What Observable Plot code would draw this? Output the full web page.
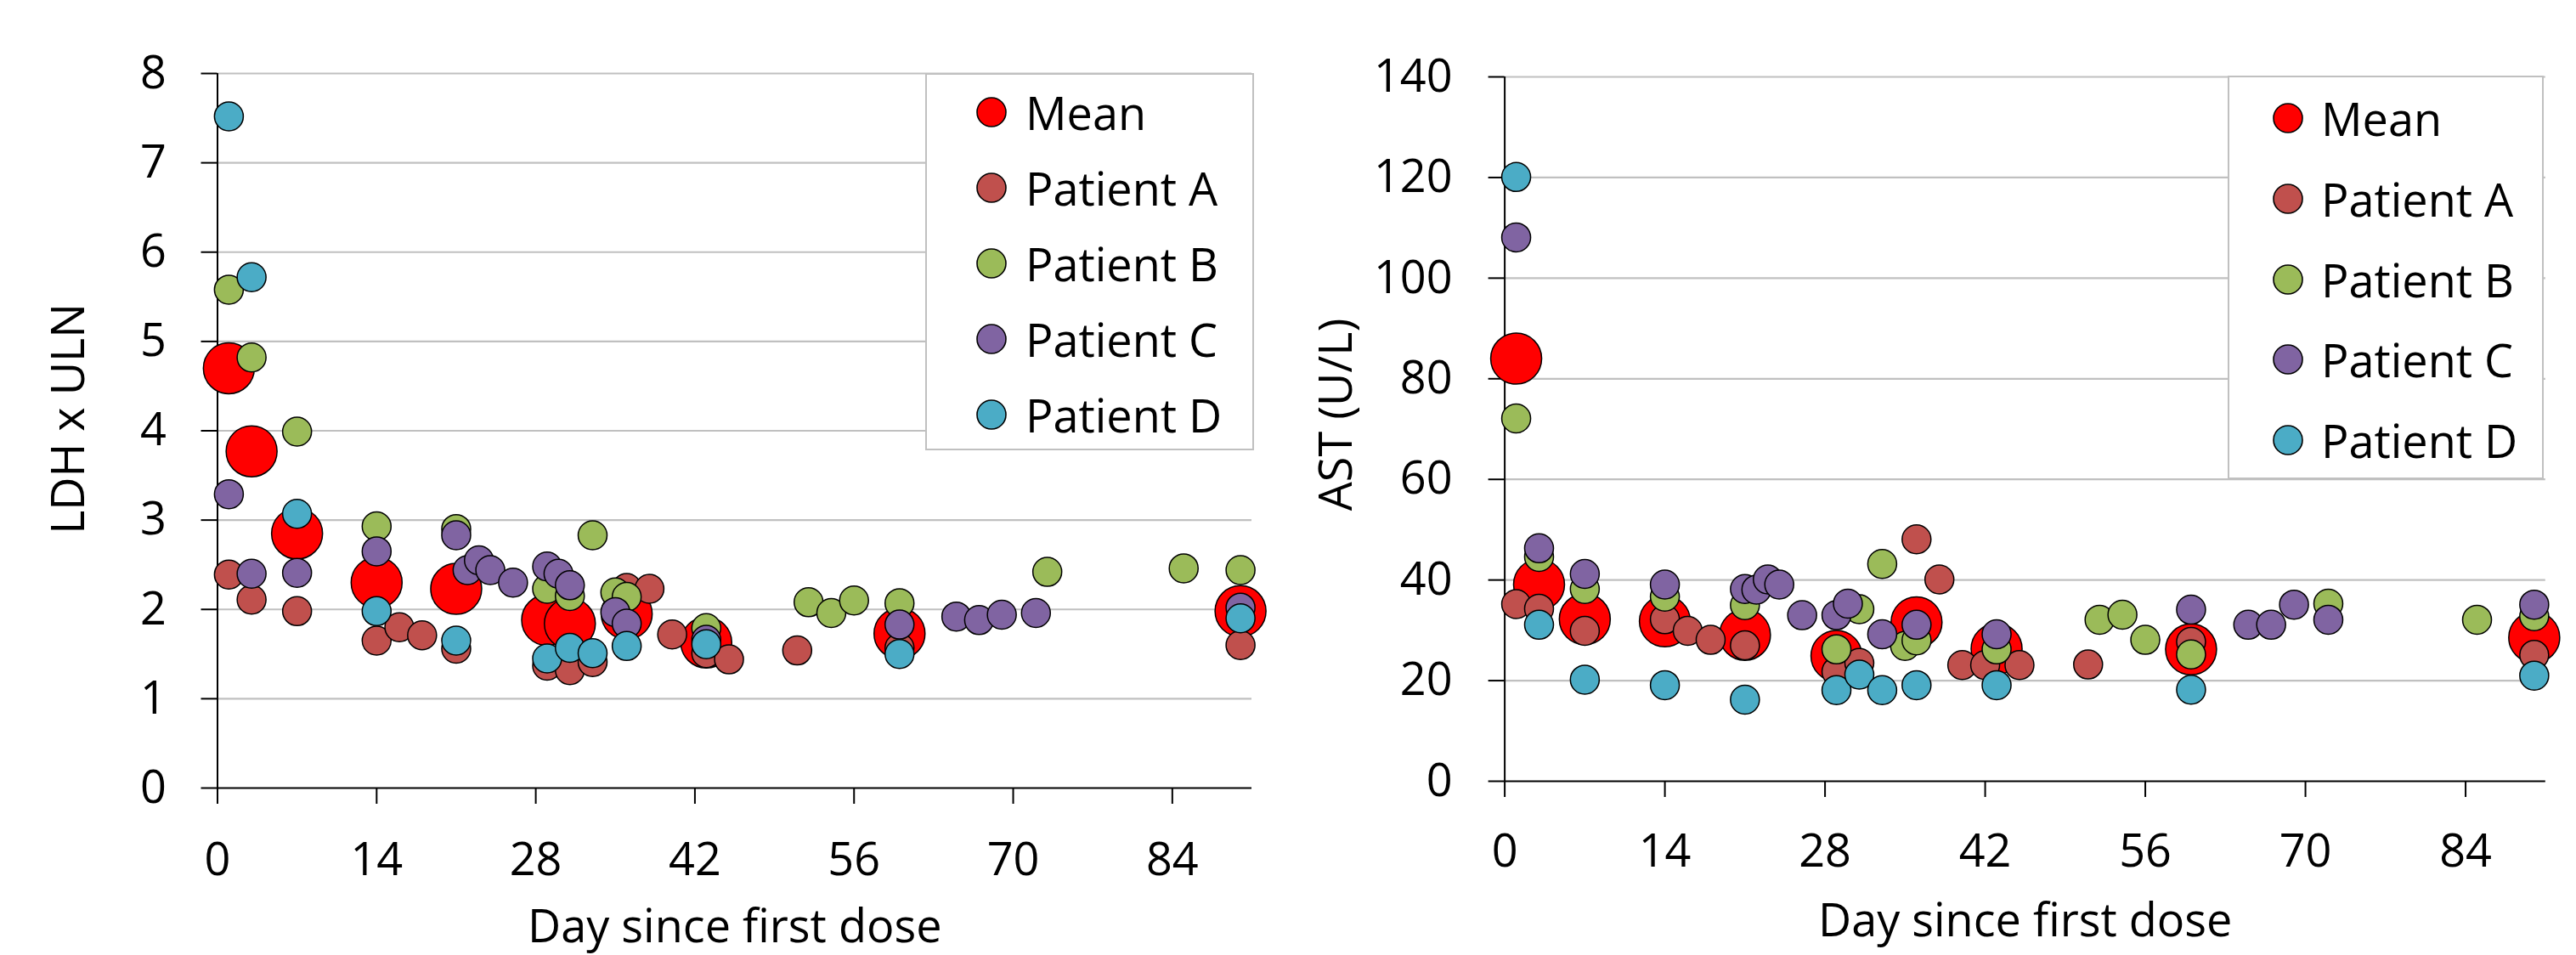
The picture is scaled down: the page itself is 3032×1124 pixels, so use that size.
<!DOCTYPE html>
<html><head><meta charset="utf-8">
<script src="https://cdn.jsdelivr.net/npm/d3@7"></script>
<script src="https://cdn.jsdelivr.net/npm/@observablehq/plot@0.6"></script>
<style>
body{margin:0;background:#fff;width:3032px;height:1124px;overflow:hidden;position:relative;font-family:"Open Sans",sans-serif;}
.chart{position:absolute;top:0;}
.legend{position:absolute;background:#fff;border:2px solid #c0c0c0;box-sizing:border-box;}
.legend .row{position:absolute;display:flex;align-items:center;font-size:54px;line-height:1;color:#000;white-space:nowrap;}
.legend .row svg{display:block;}
</style></head><body>
<div id="left" class="chart" style="left:0"></div>
<div id="right" class="chart" style="left:1516px"></div>
<script>
// ---- categories / colours ----
const series = ["Mean", "Patient A", "Patient B", "Patient C", "Patient D"];
const colors = ["#FF0000", "#C0504D", "#9BBB59", "#8064A2", "#4BACC6"];
const xTicks = [0, 14, 28, 42, 56, 70, 84];
const ldhTicks = [0, 1, 2, 3, 4, 5, 6, 7, 8];
const astTicks = [0, 20, 40, 60, 80, 100, 120, 140];
const xLabel = "Day since first dose";
const ldhLabel = "LDH x ULN";
const astLabel = "AST (U/L)";

// ---- LDH x ULN : [day, value] ----
const ldhMean = [[1,4.70],[3,3.77],[7,2.85],[14,2.30],[21,2.23],[29,1.88],[31,1.84],[36,1.95],[43,1.63],[60,1.73],[90,1.98]];
const ldhA = [[1,2.39],[3,2.11],[7,1.98],[14,1.65],[16,1.80],[18,1.71],[21,1.56],[29,1.37],[31,1.32],[33,1.41],[36,2.24],[38,2.23],[40,1.72],[43,1.51],[45,1.44],[51,1.54],[60,1.57],[90,1.60]];
const ldhB = [[1,5.58],[3,4.82],[7,3.99],[14,2.93],[21,2.90],[29,2.23],[31,2.15],[33,2.83],[35,2.19],[36,2.14],[43,1.79],[52,2.08],[54,1.96],[56,2.10],[60,2.07],[73,2.42],[85,2.46],[90,2.44]];
const ldhC = [[1,3.29],[3,2.40],[7,2.41],[14,2.65],[21,2.83],[22,2.44],[23,2.55],[24,2.44],[26,2.30],[29,2.48],[30,2.40],[31,2.27],[35,1.97],[36,1.84],[43,1.66],[60,1.83],[65,1.92],[67,1.88],[69,1.94],[72,1.96],[90,2.02]];
const ldhD = [[1,7.52],[3,5.72],[7,3.07],[14,1.98],[21,1.65],[29,1.45],[31,1.57],[33,1.51],[36,1.59],[43,1.61],[60,1.50],[90,1.90]];

// ---- AST (U/L) : [day, value] ----
const astMean = [[1,84.0],[3,39.1],[7,32.2],[14,31.8],[21,29.1],[29,24.9],[36,31.6],[43,26.3],[60,26.2],[90,28.6]];
const astA = [[1,35.2],[3,34.3],[7,29.9],[14,32.2],[16,29.9],[18,28.1],[21,27.0],[29,21.8],[31,23.5],[36,48.1],[38,40.1],[40,23.1],[42,23.1],[45,23.1],[51,23.2],[60,27.7],[90,25.1]];
const astB = [[1,72.1],[3,44.6],[7,38.2],[14,36.7],[21,35.0],[29,26.2],[31,34.2],[33,43.2],[35,26.9],[36,28.0],[43,26.2],[52,32.1],[54,33.1],[56,28.1],[60,25.2],[72,35.3],[85,32.1],[90,32.8]];
const astC = [[1,108.1],[3,46.3],[7,41.2],[14,39.1],[21,38.2],[22,38.1],[23,40.1],[24,39.1],[26,33.0],[29,33.0],[30,35.3],[33,29.2],[36,31.1],[43,29.2],[60,34.1],[65,31.1],[67,31.1],[69,35.1],[72,32.1],[90,35.1]];
const astD = [[1,120.1],[3,31.1],[7,20.2],[14,19.1],[21,16.2],[29,18.1],[31,21.2],[33,18.1],[36,19.1],[43,19.1],[60,18.2],[90,21.0]];

function rows(list) {
  return list.flatMap((arr, i) => arr.map(([day, value]) => ({series: series[i], day, value})));
}
const ldhData = rows([ldhMean, ldhA, ldhB, ldhC, ldhD]);
const astData = rows([astMean, astA, astB, astC, astD]);

const FONT = '"Open Sans", sans-serif';

function chart(o) {
  const meanData = o.data.filter(d => d.series === "Mean");
  const patData = o.data.filter(d => d.series !== "Mean");
  return Plot.plot({
    width: o.width, height: 1124,
    marginLeft: o.mL, marginRight: o.mR, marginTop: o.mT, marginBottom: o.mB,
    style: {fontFamily: FONT, fontSize: "54px", color: "#000", background: "#fff", overflow: "visible"},
    x: {domain: [0, 91]},
    y: {domain: [0, o.yMax]},
    color: {domain: series, range: colors},
    marks: [
      Plot.gridY({ticks: o.yTicks.filter(d => d > 0), stroke: "#c0c0c0", strokeOpacity: 1, strokeWidth: 2.2}),
      Plot.axisY({ticks: o.yTicks, tickSize: 19, tickPadding: o.yPad, strokeWidth: 2, label: null, fontSize: 54}),
      Plot.axisX({ticks: xTicks, tickSize: 19, tickPadding: o.xPad, strokeWidth: 2, label: null, fontSize: 54}),
      Plot.ruleX([0], {stroke: "#000", strokeWidth: 2}),
      Plot.ruleY([0], {stroke: "#000", strokeWidth: 2}),
      Plot.dot(meanData, {x: "day", y: "value", fill: "series", r: 30, stroke: "#000", strokeWidth: 1.5}),
      Plot.dot(patData, {x: "day", y: "value", fill: "series", r: 17, stroke: "#000", strokeWidth: 1.5}),
      Plot.text([o.yLabel], {text: d => d, frameAnchor: "left", textAnchor: "middle", lineAnchor: "middle", rotate: -90, dx: o.yTitleDx, dy: o.yTitleDy, fontSize: 54, fill: "#000"}),
      Plot.text([xLabel], {text: d => d, frameAnchor: "bottom", textAnchor: "middle", lineAnchor: "top", dy: o.xTitleDy, fontSize: 54, fill: "#000"})
    ]
  });
}

document.getElementById("left").append(chart({
  data: ldhData, yTicks: ldhTicks, yMax: 8, yLabel: ldhLabel,
  width: 1516, mL: 255.5, mR: 43, mT: 86, mB: 197,
  yPad: 41, xPad: 45, yTitleDx: -174.5, yTitleDy: -14, xTitleDy: 143
}));
document.getElementById("right").append(chart({
  data: astData, yTicks: astTicks, yMax: 140, yLabel: astLabel,
  width: 1516, mL: 254.6, mR: 36.2, mT: 90, mB: 205,
  yPad: 42.5, xPad: 43.5, yTitleDx: -197, yTitleDy: -17, xTitleDy: 144
}));

// ---- legends (HTML, real text) ----
function legend(box, mx, my0, step, tx) {
  const div = document.createElement("div");
  div.className = "legend";
  Object.assign(div.style, {left: box[0] + "px", top: box[1] + "px", width: (box[2] - box[0]) + "px", height: (box[3] - box[1]) + "px"});
  series.forEach((name, i) => {
    const row = document.createElement("div");
    row.className = "row";
    const cy = my0 + i * step - box[1];
    row.style.left = (mx - 19 - box[0]) + "px";
    row.style.top = (cy - 27) + "px";
    row.style.height = "54px";
    row.innerHTML = `<svg width="38" height="38" viewBox="0 0 38 38"><circle cx="19" cy="19" r="17" fill="${colors[i]}" stroke="#000" stroke-width="1.6"/></svg><span style="margin-left:${tx - mx - 19}px">${name}</span>`;
    div.append(row);
  });
  document.body.append(div);
}
legend([1089, 86, 1476, 530], 1165, 130, 89, 1205);
legend([2622, 89, 2994, 564], 2691, 137, 94.75, 2730);
</script>
</body></html>
